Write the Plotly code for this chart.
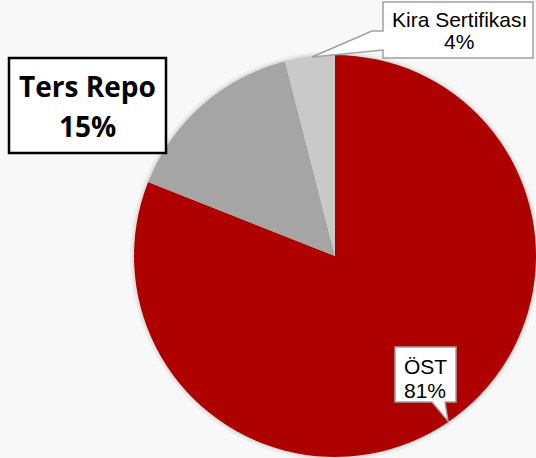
import plotly.graph_objects as go

labels = ["ÖST", "Ters Repo", "Kira Sertifikası"]
values = [81, 15, 4]
colors = ["#AF0000", "#A5A5A5", "#C9C9C9"]
pct_text = ["81%", "15%", "4%"]

W, H = 536, 458

def px(x):
    return x / W

def py(y):
    return 1 - y / H

cx, cy, r = 335, 256, 201

fig = go.Figure()
fig.add_trace(go.Pie(
    labels=labels, values=values, sort=False, direction="clockwise", rotation=0,
    marker=dict(colors=colors, line=dict(width=0)),
    textinfo="none", hoverinfo="label+percent", showlegend=False,
    domain=dict(x=[px(cx - r), px(cx + r)], y=[py(cy + r), py(cy - r)]),
))

shapes = []
# soft shadow behind pie
for d, a in [(4, 0.04), (2, 0.06)]:
    shapes.append(dict(type="circle", xref="paper", yref="paper", layer="below",
                       x0=px(cx - r - d), x1=px(cx + r + d), y0=py(cy + r + d), y1=py(cy - r - d),
                       fillcolor=f"rgba(0,0,0,{a})", line=dict(width=0)))

def path(points):
    s = "M " + " L ".join(f"{px(x)},{py(y)}" for x, y in points) + " Z"
    return s

# Ters Repo box
shapes.append(dict(type="rect", xref="paper", yref="paper", x0=px(9), x1=px(166), y0=py(153), y1=py(58),
                   fillcolor="white", line=dict(color="black", width=2.5)))
# Kira callout
shapes.append(dict(type="path", xref="paper", yref="paper",
                   path=path([(383, 2), (533, 2), (533, 58), (383, 58), (383, 50), (312, 57), (372, 31), (383, 31)]),
                   fillcolor="white", line=dict(color="#A0A0A0", width=1.5)))
# ÖST callout
shapes.append(dict(type="path", xref="paper", yref="paper",
                   path=path([(395, 347), (456, 347), (456, 402), (445, 402), (448, 421), (432, 402), (395, 402)]),
                   fillcolor="white", line=dict(color="#A0A0A0", width=1.5)))

annotations = []
def txt(x, y, t, size, bold=False, family="Liberation Sans"):
    annotations.append(dict(x=px(x), y=py(y), xref="paper", yref="paper", text=f"<b>{t}</b>" if bold else t,
                            showarrow=False, xanchor="center", yanchor="middle",
                            font=dict(size=size, family=family, color="black")))

txt(87, 86, labels[1], 28, True, "Open Sans")
txt(87, 126, pct_text[1], 28, True, "Open Sans")
txt(459, 20, labels[2], 21)
txt(459, 42, pct_text[2], 21)
txt(425, 366, labels[0], 21)
txt(425, 390, pct_text[0], 21)

fig.update_layout(width=W, height=H, margin=dict(l=0, r=0, t=0, b=0),
                  paper_bgcolor="#F8F8F8", plot_bgcolor="#F8F8F8",
                  shapes=shapes, annotations=annotations)
fig.write_html("out.html", config={"displayModeBar": False},
               post_script="document.body.style.margin='0';document.body.style.padding='0';document.body.style.overflow='hidden';document.body.style.background='#F8F8F8';")
